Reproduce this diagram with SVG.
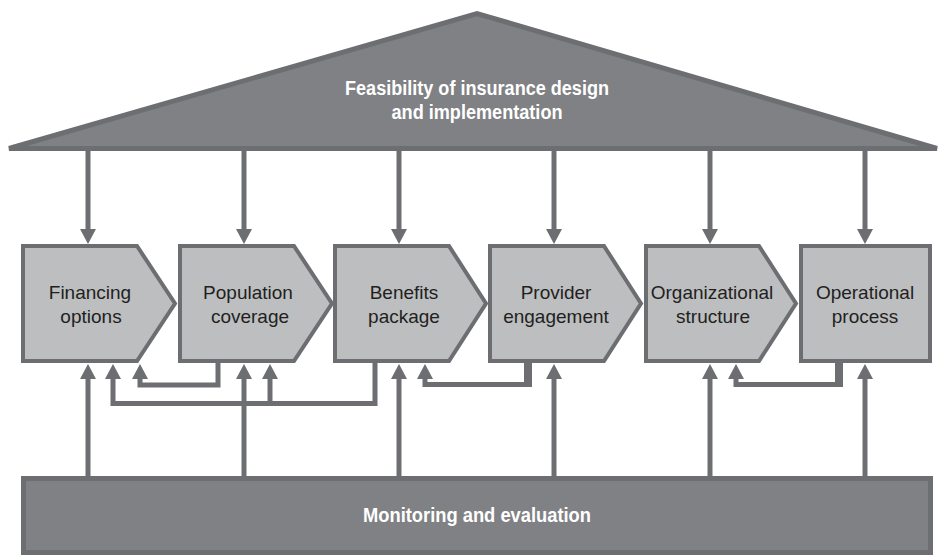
<svg xmlns="http://www.w3.org/2000/svg" width="941" height="555" viewBox="0 0 941 555">
<style>
.band{fill:#808184;stroke:#6d6e71;stroke-width:5}
.box{fill:#bcbec0;stroke:#6d6e71;stroke-width:4}
.lbl{font-family:"Liberation Sans",Arial,sans-serif;font-size:19px;fill:#231f20;text-anchor:middle}
.ttl{font-family:"Liberation Sans",Arial,sans-serif;font-size:20px;font-weight:bold;fill:#ffffff;text-anchor:middle}
.ln{fill:none;stroke:#6d6e71;stroke-width:5}
.drop{fill:none;stroke:#6d6e71;stroke-width:8}
</style>
<defs>
<marker id="ah" viewBox="0 0 15 16" refX="0" refY="8" markerWidth="15" markerHeight="16" markerUnits="userSpaceOnUse" orient="auto">
<path d="M0,0 L15,8 L0,16 Z" fill="#6d6e71"/>
</marker>
</defs>
<rect width="941" height="555" fill="#ffffff"/>
<g id="connectors">
<path class="ln" d="M88,150 V229" marker-end="url(#ah)"/>
<path class="ln" d="M244,150 V229" marker-end="url(#ah)"/>
<path class="ln" d="M399,150 V229" marker-end="url(#ah)"/>
<path class="ln" d="M554,150 V229" marker-end="url(#ah)"/>
<path class="ln" d="M710,150 V229" marker-end="url(#ah)"/>
<path class="ln" d="M865,150 V229" marker-end="url(#ah)"/>
<path class="ln" d="M88,477 V379" marker-end="url(#ah)"/>
<path class="ln" d="M244,477 V379" marker-end="url(#ah)"/>
<path class="ln" d="M399,477 V379" marker-end="url(#ah)"/>
<path class="ln" d="M554,477 V379" marker-end="url(#ah)"/>
<path class="ln" d="M710,477 V379" marker-end="url(#ah)"/>
<path class="ln" d="M865,477 V379" marker-end="url(#ah)"/>
<path class="ln" d="M218,362 V385 H140 V379" marker-end="url(#ah)"/>
<path class="ln" d="M375,362 V403.5 H113 V379" marker-end="url(#ah)"/>
<path class="ln" d="M270,403.5 V379" marker-end="url(#ah)"/>
<path class="drop" d="M528,362 V387"/>
<path class="ln" d="M532,384.5 H425 V379" marker-end="url(#ah)"/>
<path class="drop" d="M839,362 V387"/>
<path class="ln" d="M843,384.5 H736 V379" marker-end="url(#ah)"/>
</g>
<g id="feasibility">
<polygon class="band" points="9,148.5 477,13.5 937,148.5"/>
<text class="ttl" x="477" y="95" textLength="264" lengthAdjust="spacingAndGlyphs">Feasibility of insurance design</text>
<text class="ttl" x="477" y="119" textLength="171" lengthAdjust="spacingAndGlyphs">and implementation</text>
</g>
<g id="financing">
<path class="box" d="M23,246 H137 L175,303.5 L137,361 H23 Z"/>
<text class="lbl" x="90" y="298.5">Financing</text>
<text class="lbl" x="91" y="322.5">options</text>
</g>
<g id="population">
<path class="box" d="M180,246 H294 L332,303.5 L294,361 H180 Z"/>
<text class="lbl" x="248" y="298.5">Population</text>
<text class="lbl" x="250" y="322.5">coverage</text>
</g>
<g id="benefits">
<path class="box" d="M335,246 H449 L486,303.5 L449,361 H335 Z"/>
<text class="lbl" x="404" y="298.5">Benefits</text>
<text class="lbl" x="404" y="322.5">package</text>
</g>
<g id="provider">
<path class="box" d="M490,246 H604 L641,303.5 L604,361 H490 Z"/>
<text class="lbl" x="556" y="298.5">Provider</text>
<text class="lbl" x="556" y="322.5">engagement</text>
</g>
<g id="organizational">
<path class="box" d="M646,246 H759 L796,303.5 L759,361 H646 Z"/>
<text class="lbl" x="712" y="298.5">Organizational</text>
<text class="lbl" x="713" y="322.5">structure</text>
</g>
<g id="operational">
<rect class="box" x="801" y="246" width="129" height="115"/>
<text class="lbl" x="865" y="298.5">Operational</text>
<text class="lbl" x="865" y="322.5">process</text>
</g>
<g id="monitoring">
<rect class="band" x="23.5" y="478.5" width="907" height="74"/>
<text class="ttl" x="477" y="522" textLength="228" lengthAdjust="spacingAndGlyphs">Monitoring and evaluation</text>
</g>
</svg>
